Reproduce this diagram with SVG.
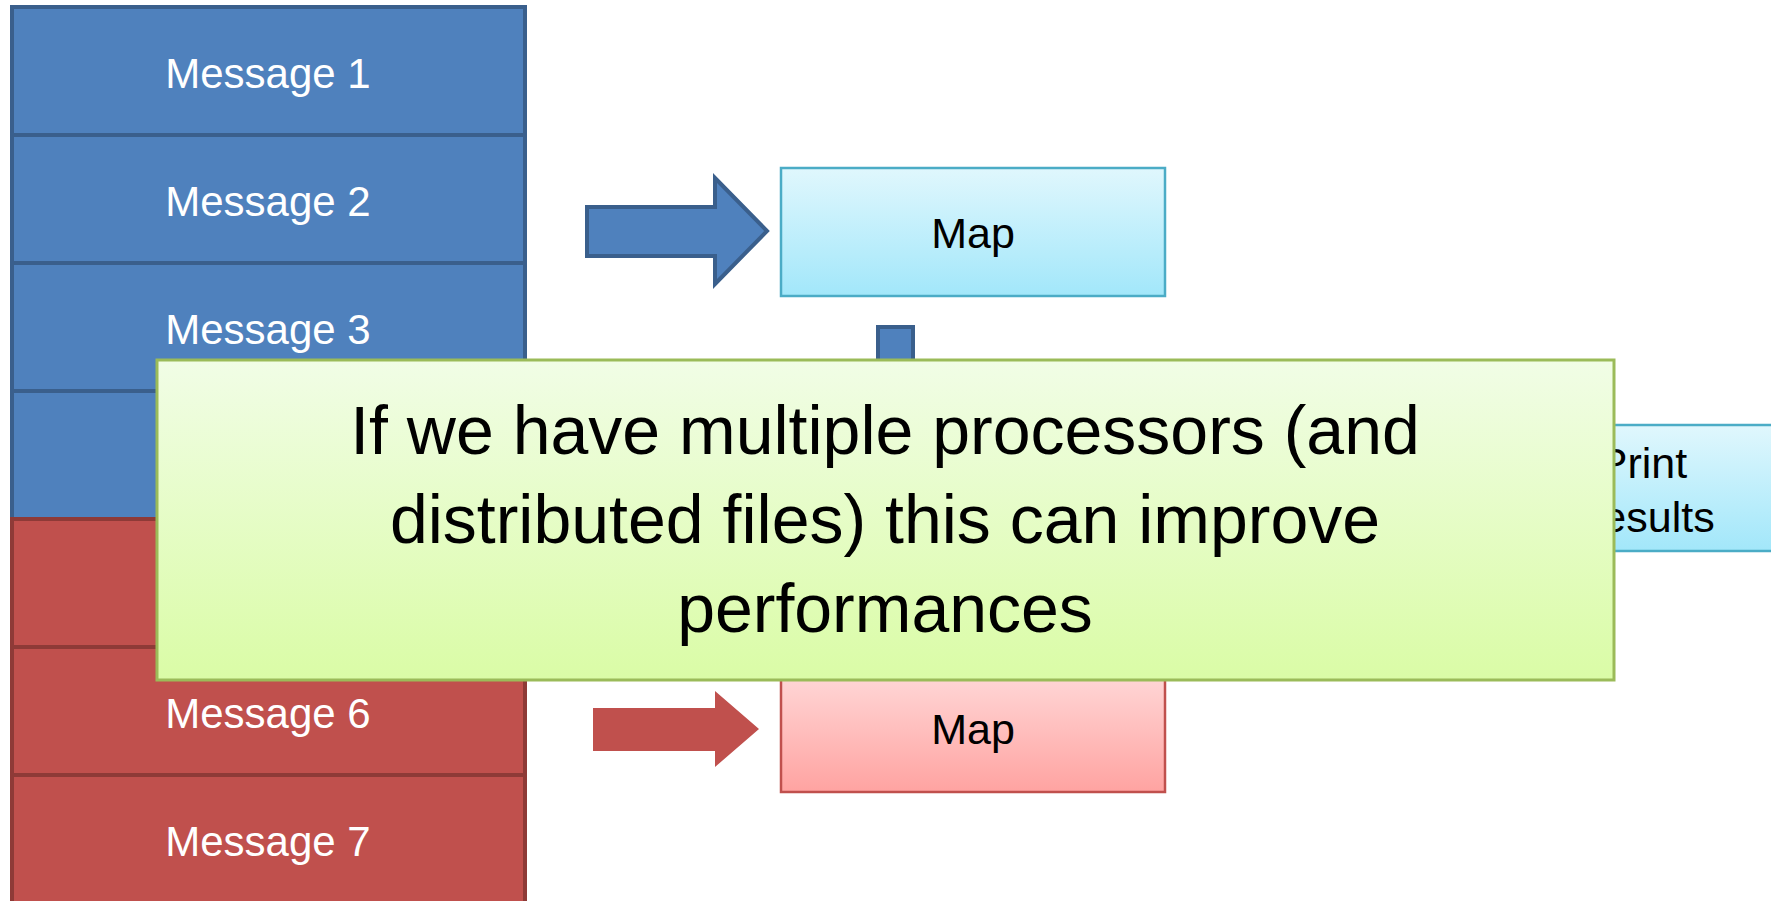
<svg xmlns="http://www.w3.org/2000/svg" width="1771" height="901" viewBox="0 0 1771 901">
  <defs>
    <linearGradient id="gBlue" x1="0" y1="0" x2="0" y2="1">
      <stop offset="0" stop-color="#E0F7FD"/>
      <stop offset="1" stop-color="#A2E7FA"/>
    </linearGradient>
    <linearGradient id="gRed" x1="0" y1="0" x2="0" y2="1">
      <stop offset="0" stop-color="#FFDCDC"/>
      <stop offset="1" stop-color="#FFA3A1"/>
    </linearGradient>
    <linearGradient id="gGreen" x1="0" y1="0" x2="0" y2="1">
      <stop offset="0" stop-color="#F1FDE6"/>
      <stop offset="1" stop-color="#DAFCA6"/>
    </linearGradient>
  </defs>
  <style>
    .msgB { fill: #4F81BD; stroke: #3A5F8C; stroke-width: 4; }
    .msgR { fill: #C0504D; stroke: #8E3A37; stroke-width: 4; }
    .msgT { font-family: "Liberation Sans", Arial, sans-serif; font-size: 42px; fill: #FFFFFF; text-anchor: middle; }
    .boxB { fill: url(#gBlue); stroke: #4BACC6; stroke-width: 2.5; }
    .boxR { fill: url(#gRed); stroke: #C0504D; stroke-width: 2.5; }
    .lbl { font-family: "Liberation Sans", Arial, sans-serif; font-size: 43px; fill: #000000; text-anchor: middle; }
    .note { fill: url(#gGreen); stroke: #9BBB59; stroke-width: 3; }
    .noteT { font-family: "Liberation Sans", Arial, sans-serif; font-size: 68px; fill: #000000; text-anchor: middle; }
  </style>

  <!-- message stack -->
  <g id="msg1"><rect class="msgB" x="12" y="7" width="513" height="128"/><text class="msgT" x="268" y="88">Message 1</text></g>
  <g id="msg2"><rect class="msgB" x="12" y="135" width="513" height="128"/><text class="msgT" x="268" y="216">Message 2</text></g>
  <g id="msg3"><rect class="msgB" x="12" y="263" width="513" height="128"/><text class="msgT" x="268" y="344">Message 3</text></g>
  <g id="msg4"><rect class="msgB" x="12" y="391" width="513" height="128"/></g>
  <g id="msg5"><rect class="msgR" x="12" y="519" width="513" height="128"/></g>
  <g id="msg6"><rect class="msgR" x="12" y="647" width="513" height="128"/><text class="msgT" x="268" y="728">Message 6</text></g>
  <g id="msg7"><rect class="msgR" x="12" y="775" width="513" height="130"/><text class="msgT" x="268" y="856">Message 7</text></g>

  <!-- connectors -->
  <g id="connectors">
    <polygon points="587,207 715,207 715,178 767,231 715,284 715,256 587,256" fill="#4F81BD" stroke="#3A5F8C" stroke-width="4" stroke-linejoin="miter"/>
    <polygon points="593,708 715,708 715,691 759,729 715,767 715,751 593,751" fill="#C0504D"/>
    <rect x="878" y="327" width="35" height="40" fill="#4F81BD" stroke="#3A5F8C" stroke-width="4"/>
  </g>

  <!-- processing boxes -->
  <g id="mapTop"><rect class="boxB" x="781" y="168" width="384" height="128"/><text class="lbl" x="973" y="248">Map</text></g>
  <g id="mapBottom"><rect class="boxR" x="781" y="663" width="384" height="129"/><text class="lbl" x="973" y="744">Map</text></g>
  <g id="printResults"><rect class="boxB" x="1444" y="425" width="386" height="126"/><text class="lbl" x="1643" y="478">Print</text><text class="lbl" x="1643" y="532">Results</text></g>

  <!-- callout -->
  <g id="callout">
    <rect class="note" x="157" y="360" width="1457" height="320"/>
    <text class="noteT" x="885" y="454">If we have multiple processors (and</text>
    <text class="noteT" x="885" y="543">distributed files) this can improve</text>
    <text class="noteT" x="885" y="632">performances</text>
  </g>
</svg>
